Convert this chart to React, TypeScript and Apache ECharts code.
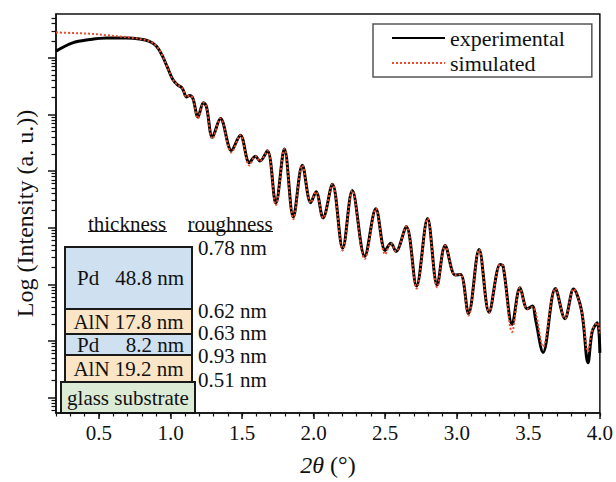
import React, { useEffect, useRef } from "react";
import * as echarts from "echarts";

// 2θ (degrees)
const twoTheta = [0.2, 0.316, 0.435, 0.553, 0.693, 0.784, 0.853, 0.902, 0.944, 0.979, 1.014, 1.049, 1.077, 1.091, 1.112, 1.133, 1.156, 1.192, 1.23, 1.251, 1.293, 1.349, 1.426, 1.488, 1.551, 1.593, 1.625, 1.677, 1.736, 1.796, 1.858, 1.921, 1.98, 2.017, 2.066, 2.131, 2.203, 2.27, 2.357, 2.435, 2.5, 2.54, 2.575, 2.647, 2.719, 2.796, 2.863, 2.919, 2.989, 3.027, 3.082, 3.156, 3.226, 3.303, 3.324, 3.387, 3.442, 3.493, 3.528, 3.552, 3.603, 3.689, 3.756, 3.816, 3.872, 3.917, 3.947, 3.982, 4.0];
// log10 of intensity (a. u.)
const experimental = [6.118, 6.264, 6.322, 6.351, 6.351, 6.334, 6.292, 6.205, 6.031, 5.83, 5.626, 5.522, 5.478, 5.417, 5.308, 5.336, 5.287, 4.957, 5.209, 5.139, 4.6, 4.93, 4.365, 4.635, 4.148, 4.264, 4.177, 4.362, 3.435, 4.391, 3.191, 4.104, 3.443, 3.635, 3.174, 3.77, 2.64, 3.656, 2.496, 3.336, 2.6, 2.727, 2.583, 3.023, 1.974, 3.162, 1.991, 2.687, 2.165, 2.177, 1.487, 2.617, 1.51, 2.351, 2.322, 1.296, 1.939, 1.569, 1.617, 1.365, 0.8, 1.93, 1.395, 1.917, 1.539, 0.617, 1.174, 1.322, 0.791];
const simulated = [6.449, 6.438, 6.426, 6.4, 6.365, 6.334, 6.292, 6.205, 6.031, 5.83, 5.626, 5.522, 5.478, 5.417, 5.308, 5.336, 5.287, 4.93, 5.209, 5.139, 4.57, 4.93, 4.33, 4.635, 4.1, 4.264, 4.177, 4.362, 3.4, 4.391, 3.15, 4.104, 3.443, 3.635, 3.174, 3.77, 2.6, 3.656, 2.45, 3.336, 2.53, 2.727, 2.583, 3.023, 1.927, 3.162, 1.95, 2.687, 2.165, 2.177, 1.45, 2.617, 1.5, 2.351, 2.322, 1.162, 1.939, 1.569, 1.6, 1.5, 0.9, 1.93, 1.395, 1.917, 1.539, 0.817, 1.2, 1.322, 1.1];

const xMajorTicks = [0.5, 1.0, 1.5, 2.0, 2.5, 3.0, 3.5, 4.0];
const xMinorStep = 0.1;
const yDecades = [0, 1, 2, 3, 4, 5, 6];
const yMinorMultipliers = [2, 3, 4, 5, 6, 7, 8, 9];

const layerNames = ["Pd", "AlN", "Pd", "AlN"];
const layerThickness = ["48.8 nm", "17.8 nm", "8.2 nm", "19.2 nm"];
const roughness = ["0.78 nm", "0.62 nm", "0.63 nm", "0.93 nm", "0.51 nm"];

const X_MIN = 0.2;
const X_MAX = 4.0;
const Y_MIN = -0.27;
const Y_MAX = 6.774;

const FONT = '"Liberation Serif", "Times New Roman", serif';

export default function App() {
  const ref = useRef<HTMLDivElement>(null);

  useEffect(() => {
    if (!ref.current) return;
    const chart = echarts.init(ref.current, null, { renderer: "svg" });

    const xMinor: number[] = [];
    for (let i = Math.round(X_MIN / xMinorStep); i <= Math.round(X_MAX / xMinorStep); i++) {
      xMinor.push(Math.round(i * xMinorStep * 10) / 10);
    }
    const yMinor: number[] = [];
    for (let n = -1; n <= 6; n++) {
      for (const k of yMinorMultipliers) {
        const v = n + Math.log10(k);
        if (v > Y_MIN && v < Y_MAX) yMinor.push(v);
      }
    }

    const expData = twoTheta.map((x, i) => [x, experimental[i]]);
    const simData = twoTheta.map((x, i) => [x, simulated[i]]);

    const blue = "#cfe0f1";
    const beige = "#fae5c6";
    const green = "#dcebd5";
    const stroke = "#1a1a1a";
    const layerFills = [blue, beige, blue, beige];
    const layerTops = [247, 309, 334, 355];
    const layerBottoms = [309, 334, 355, 382];

    const graphics: any[] = [];
    graphics.push({ type: "text", x: 127, y: 224, style: { text: "thickness", font: `21px ${FONT}`, fill: "#111", align: "center", verticalAlign: "middle" } });
    graphics.push({ type: "line", shape: { x1: 88, y1: 231.5, x2: 167, y2: 231.5 }, style: { stroke: "#111", lineWidth: 1 } });
    graphics.push({ type: "text", x: 230, y: 224, style: { text: "roughness", font: `21px ${FONT}`, fill: "#111", align: "center", verticalAlign: "middle" } });
    graphics.push({ type: "line", shape: { x1: 188, y1: 231.5, x2: 273, y2: 231.5 }, style: { stroke: "#111", lineWidth: 1 } });

    layerNames.forEach((name, i) => {
      const top = layerTops[i];
      const bot = layerBottoms[i];
      graphics.push({ type: "rect", shape: { x: 65, y: top, width: 127, height: bot - top }, style: { fill: layerFills[i], stroke, lineWidth: 2 } });
      const cy = (top + bot) / 2;
      if (name === "Pd") {
        graphics.push({ type: "text", x: 77, y: cy, style: { text: name, font: `21px ${FONT}`, fill: "#111", align: "left", verticalAlign: "middle" } });
        graphics.push({ type: "text", x: 184, y: cy, style: { text: layerThickness[i], font: `21px ${FONT}`, fill: "#111", align: "right", verticalAlign: "middle" } });
      } else {
        graphics.push({ type: "text", x: 128.5, y: cy, style: { text: `${name} ${layerThickness[i]}`, font: `21px ${FONT}`, fill: "#111", align: "center", verticalAlign: "middle" } });
      }
    });
    graphics.push({ type: "rect", shape: { x: 61, y: 382, width: 134, height: 31 }, style: { fill: green, stroke, lineWidth: 2 } });
    graphics.push({ type: "text", x: 128, y: 398, style: { text: "glass substrate", font: `21px ${FONT}`, fill: "#111", align: "center", verticalAlign: "middle" } });

    const roughY = [248, 311, 333, 356, 380];
    roughness.forEach((r, i) => {
      graphics.push({ type: "text", x: 198, y: roughY[i], style: { text: r, font: `21px ${FONT}`, fill: "#111", align: "left", verticalAlign: "middle" } });
    });

    const option: any = {
      animation: false,
      backgroundColor: "#ffffff",
      grid: { left: 56, right: 14, top: 14, bottom: 63, show: true, borderColor: "#111", borderWidth: 1.5, containLabel: false },
      legend: {
        left: 373,
        top: 24,
        orient: "vertical",
        itemWidth: 53,
        itemHeight: 10,
        itemGap: 3,
        padding: [3, 27, 3, 18],
        borderColor: "#555",
        borderWidth: 1.5,
        itemStyle: { opacity: 0 },
        textStyle: { fontSize: 22, fontFamily: FONT, color: "#111" },
        data: ["experimental", "simulated"],
      },
      xAxis: [
        {
          type: "value",
          min: X_MIN,
          max: X_MAX,
          position: "bottom",
          name: "{i|2θ} (°)",
          nameLocation: "middle",
          nameGap: 40,
          nameTextStyle: { fontSize: 24, fontFamily: FONT, color: "#111", rich: { i: { fontStyle: "italic", fontSize: 24, fontFamily: FONT, color: "#111" } } },
          axisLine: { show: true, onZero: false, lineStyle: { color: "#111", width: 1.5 } },
          axisTick: { show: true, inside: false, length: 6, lineStyle: { color: "#111", width: 1.5 }, customValues: xMajorTicks },
          axisLabel: { show: true, margin: 9, fontSize: 21, fontFamily: FONT, color: "#111", customValues: xMajorTicks, formatter: (v: number) => v.toFixed(1) },
          splitLine: { show: false },
        },
        {
          type: "value",
          min: X_MIN,
          max: X_MAX,
          position: "bottom",
          axisLine: { show: false, onZero: false },
          axisTick: { show: true, inside: false, length: 3.5, lineStyle: { color: "#111", width: 1.2 }, customValues: xMinor },
          axisLabel: { show: false },
          splitLine: { show: false },
        },
      ],
      yAxis: [
        {
          type: "value",
          min: Y_MIN,
          max: Y_MAX,
          position: "left",
          name: "Log (Intensity (a. u.))",
          nameLocation: "middle",
          nameGap: 19,
          nameTextStyle: { fontSize: 24, fontFamily: FONT, color: "#111" },
          axisLine: { show: true, onZero: false, lineStyle: { color: "#111", width: 1.5 } },
          axisTick: { show: true, inside: false, length: 8, lineStyle: { color: "#111", width: 1.5 }, customValues: yDecades },
          axisLabel: { show: false },
          splitLine: { show: false },
        },
        {
          type: "value",
          min: Y_MIN,
          max: Y_MAX,
          position: "left",
          axisLine: { show: false, onZero: false },
          axisTick: { show: true, inside: false, length: 4.5, lineStyle: { color: "#111", width: 1.2 }, customValues: yMinor },
          axisLabel: { show: false },
          splitLine: { show: false },
        },
      ],
      series: [
        {
          name: "experimental",
          type: "line",
          data: expData,
          xAxisIndex: 0,
          yAxisIndex: 0,
          showSymbol: false,
          symbol: "none",
          smooth: 0.35,
          lineStyle: { color: "#000000", width: 3 },
          itemStyle: { color: "#000000" },
          z: 2,
        },
        {
          name: "simulated",
          type: "line",
          data: simData,
          xAxisIndex: 0,
          yAxisIndex: 0,
          showSymbol: false,
          symbol: "none",
          smooth: 0.35,
          lineStyle: { color: "#ea4b2c", width: 2, type: [2, 2] },
          itemStyle: { color: "#ea4b2c" },
          z: 3,
        },
      ],
      graphic: graphics,
    };

    chart.setOption(option);
    return () => chart.dispose();
  }, []);

  return <div ref={ref} style={{ width: 616, height: 482, position: "absolute", left: 0, top: 0 }} />;
}
